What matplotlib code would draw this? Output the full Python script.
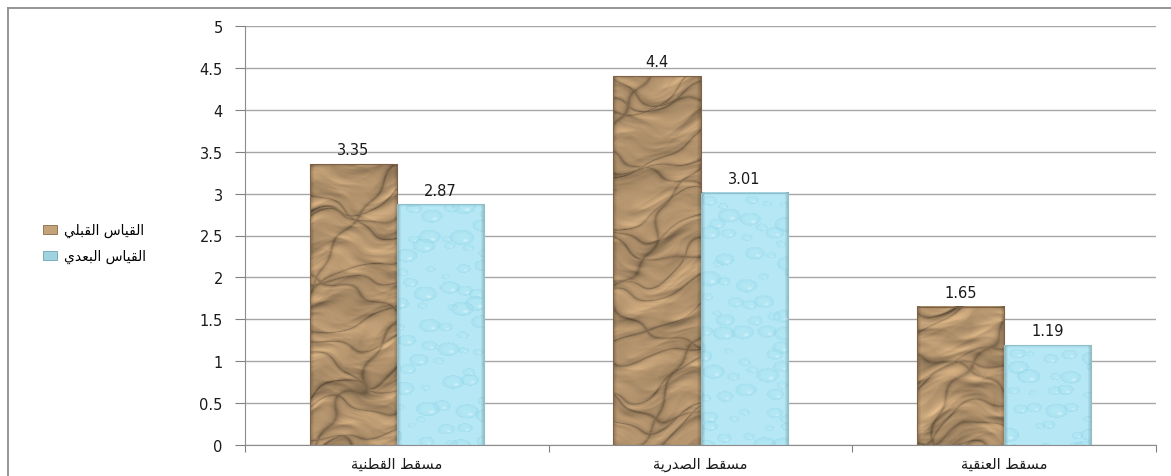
import numpy as np
import matplotlib
matplotlib.use("Agg")
import matplotlib.pyplot as plt
from matplotlib.patches import Patch
from matplotlib.lines import Line2D

# =========================
# Data
# =========================

categories = ["مسقط القطنية", "مسقط الصدرية", "مسقط العنقية"]
series_names = ["القياس القبلي", "القياس البعدي"]
pre_values = [3.35, 4.4, 1.65]
post_values = [2.87, 3.01, 1.19]
y_ticks = [0, 0.5, 1, 1.5, 2, 2.5, 3, 3.5, 4, 4.5, 5]
y_labels = ["0", "0.5", "1", "1.5", "2", "2.5", "3", "3.5", "4", "4.5", "5"]


# =========================
# Arabic shaping (matplotlib has no shaper)
# =========================

FORMS = {
    "ا": ("\uFE8D", "\uFE8E", None, None),
    "ب": ("\uFE8F", "\uFE90", "\uFE91", "\uFE92"),
    "ة": ("\uFE93", "\uFE94", None, None),
    "د": ("\uFEA9", "\uFEAA", None, None),
    "ر": ("\uFEAD", "\uFEAE", None, None),
    "س": ("\uFEB1", "\uFEB2", "\uFEB3", "\uFEB4"),
    "ص": ("\uFEB9", "\uFEBA", "\uFEBB", "\uFEBC"),
    "ط": ("\uFEC1", "\uFEC2", "\uFEC3", "\uFEC4"),
    "ع": ("\uFEC9", "\uFECA", "\uFECB", "\uFECC"),
    "ق": ("\uFED5", "\uFED6", "\uFED7", "\uFED8"),
    "ل": ("\uFEDD", "\uFEDE", "\uFEDF", "\uFEE0"),
    "م": ("\uFEE1", "\uFEE2", "\uFEE3", "\uFEE4"),
    "ن": ("\uFEE5", "\uFEE6", "\uFEE7", "\uFEE8"),
    "ي": ("\uFEF1", "\uFEF2", "\uFEF3", "\uFEF4"),
}


def ar(s):
    out = []
    for i, c in enumerate(s):
        if c not in FORMS:
            out.append(c)
            continue
        prev = s[i - 1] if i > 0 else None
        nxt = s[i + 1] if i + 1 < len(s) else None
        jp = prev in FORMS and FORMS[prev][2] is not None
        jn = FORMS[c][2] is not None and nxt in FORMS
        idx = 3 if (jp and jn) else 1 if jp else 2 if jn else 0
        out.append(FORMS[c][idx])
    return "".join(out)[::-1]


# =========================
# Textures (decoration only)
# =========================

# (frequency, angle, phase, amplitude)
PAPER_WAVES = [(0.045, 1.35, 0.0, 1.0), (0.07, 1.85, 1.3, 0.8), (0.035, 1.1, 2.1, 0.9),
               (0.11, 1.6, 0.4, 0.55), (0.09, 2.2, 2.9, 0.5), (0.15, 1.25, 1.7, 0.35),
               (0.13, 1.95, 0.8, 0.35), (0.025, 0.4, 0.3, 0.8), (0.06, 2.7, 1.1, 0.5),
               (0.19, 1.5, 2.4, 0.25), (0.05, 0.9, 0.7, 0.6), (0.23, 1.75, 0.2, 0.2)]
CREASES = [(0.05, 1.45, 0.3), (0.042, 1.9, 1.7), (0.061, 1.15, 2.6), (0.033, 0.6, 0.9)]


def bevel(h, w):
    yy, xx = np.mgrid[0:h, 0:w].astype(float)
    edge = np.minimum(xx, w - 1 - xx)
    b = 0.8 + 0.2 * np.clip(edge / 4.0, 0, 1)
    top = np.clip(yy / 3.0, 0, 1)
    return b * (0.92 + 0.08 * top)


def paper_texture(h, w, seed):
    yy, xx = np.mgrid[0:h, 0:w].astype(float)
    p = seed * 1.9
    # warp the coordinates so the ridges do not form a regular lattice
    xw = xx + 6 * np.sin(0.043 * yy + p) + 4 * np.sin(0.071 * xx + 0.052 * yy + 2 * p) \
        + 3 * np.sin(0.12 * yy - 0.09 * xx + 1.3)
    yw = yy + 7 * np.sin(0.057 * xx + 0.8 + p) + 5 * np.sin(0.037 * yy - 0.061 * xx + 0.4) \
        + 3 * np.sin(0.11 * xx + 0.13 * yy + 2.2 * p)
    field = np.zeros((h, w))
    for f, ang, ph, a in PAPER_WAVES:
        t = xw * np.cos(ang) + yw * np.sin(ang)
        field += a * np.abs(np.sin(f * t + ph + p))
    gy, gx = np.gradient(field)
    s = -(0.5 * gx + gy)
    s = s / np.abs(s).max()
    tone = (field - field.min()) / (field.max() - field.min())
    crease = np.zeros((h, w))
    for f, ang, ph in CREASES:
        t = xw * np.cos(ang) + yw * np.sin(ang)
        crease = np.maximum(crease, np.exp(-np.abs(np.sin(f * t + ph + 0.7 * p)) / 0.06))
    light = 0.9 + 0.3 * s + 0.12 * (tone - 0.5) - 0.3 * crease
    base = np.array([198, 163, 121]) / 255.0
    img = base[None, None, :] * (light * bevel(h, w))[..., None]
    return np.clip(img, 0, 1)


def frac(v):
    return v - np.floor(v)


def water_texture(h, w, seed):
    yy, xx = np.mgrid[0:h, 0:w].astype(float)
    base = np.array([0.71, 0.91, 0.96])
    deep = np.array([0.56, 0.83, 0.91])
    img = np.ones((h, w, 3)) * base
    sp = 19
    for j in range(-1, h // sp + 2):
        for i in range(-1, w // sp + 2):
            r1 = frac(np.sin(i * 12.9898 + j * 78.233 + seed * 3.1) * 43758.5453)
            r2 = frac(np.sin(i * 39.346 + j * 11.135 + seed * 1.3) * 24634.6345)
            r3 = frac(np.sin(i * 73.156 + j * 52.235 + seed * 2.7) * 96234.1231)
            cx = (i + 0.5 + 0.8 * (r1 - 0.5)) * sp
            cy = (j + 0.5 + 0.8 * (r2 - 0.5)) * sp
            r = 4 + 8 * r3
            d = np.sqrt((xx - cx) ** 2 + ((yy - cy) * 1.6) ** 2) / r
            m = d < 1
            k = (0.08 + 0.45 * d[m] ** 4)[:, None]
            img[m] = img[m] * (1 - k) + deep * k
            hd = np.sqrt((xx - cx - 0.3 * r) ** 2 + ((yy - cy - 0.25 * r) * 1.6) ** 2) / (0.3 * r)
            hm = hd < 1
            hk = (0.5 * (1 - hd[hm]))[:, None]
            img[hm] = img[hm] * (1 - hk) + hk
    img = img * bevel(h, w)[..., None]
    return np.clip(img, 0, 1)


# =========================
# Plot
# =========================

fig = plt.figure(figsize=(11.71, 4.77), dpi=100)
ax = fig.add_axes([245 / 1171, 1 - 446 / 477, 911 / 1171, 419 / 477])

x = np.arange(len(categories))
width = 0.287
px_per_unit_y = 419 / 5.0
px_per_unit_x = 911 / 3.0

for k, (vals, tex, edge) in enumerate([(pre_values, paper_texture, "#7d6245"),
                                        (post_values, water_texture, "#8fc0cc")]):
    offset = (k - 0.5) * width
    ax.bar(x + offset, vals, width, facecolor="none", edgecolor=edge,
           linewidth=0.8, zorder=4)
    for i, v in enumerate(vals):
        hpx = max(int(round(v * px_per_unit_y)), 2)
        wpx = int(round(width * px_per_unit_x))
        img = tex(hpx, wpx, i + 3 * k)
        x0 = x[i] + offset - width / 2
        ax.imshow(img, extent=(x0, x0 + width, 0, v), aspect="auto",
                  origin="upper", zorder=3, interpolation="bilinear")
        ax.annotate(f"{v:g}", (x[i] + offset, v), xytext=(0, 5),
                    textcoords="offset points", ha="center", va="bottom",
                    fontsize=10.5, color="#1a1a1a")

ax.set_xlim(-0.5, 2.5)
ax.set_ylim(0, 5)
ax.set_yticks(y_ticks)
ax.set_yticklabels(y_labels, fontsize=10.5, color="#1a1a1a")
ax.set_xticks([-0.5, 0.5, 1.5, 2.5])
ax.set_xticklabels([])
ax.set_xticks(x, minor=True)
ax.set_xticklabels([ar(c) for c in categories], minor=True, fontsize=10.5,
                   color="#1a1a1a")
ax.tick_params(axis="x", which="major", length=5, color="#808080", direction="out")
ax.tick_params(axis="x", which="minor", length=0, pad=8)
ax.tick_params(axis="y", length=7, color="#808080", pad=9)

ax.grid(axis="y", color="#a6a6a6", linewidth=1.0, zorder=0)
ax.set_axisbelow(True)
for side in ["top", "right"]:
    ax.spines[side].set_visible(False)
for side in ["left", "bottom"]:
    ax.spines[side].set_color("#8c8c8c")
    ax.spines[side].set_zorder(5)

handles = [Patch(facecolor="#c4a27a", edgecolor="#8a6a45", linewidth=0.6),
           Patch(facecolor="#9fd3e0", edgecolor="#6aa6b5", linewidth=0.6)]
fig.legend(handles, [ar(s) for s in series_names], loc="center left",
           bbox_to_anchor=(0.026, 0.488), frameon=False, fontsize=10,
           handlelength=1.0, handleheight=0.6, handletextpad=0.5,
           labelspacing=0.85)

# outer frame (only left and top visible in the crop)
fig.add_artist(Line2D([8 / 1171, 8 / 1171], [0, 1 - 9 / 477],
                      transform=fig.transFigure, color="#8c8c8c", lw=1.3))
fig.add_artist(Line2D([8 / 1171, 1], [1 - 9 / 477, 1 - 9 / 477],
                      transform=fig.transFigure, color="#8c8c8c", lw=1.3))

fig.savefig("out.png", dpi=100)
